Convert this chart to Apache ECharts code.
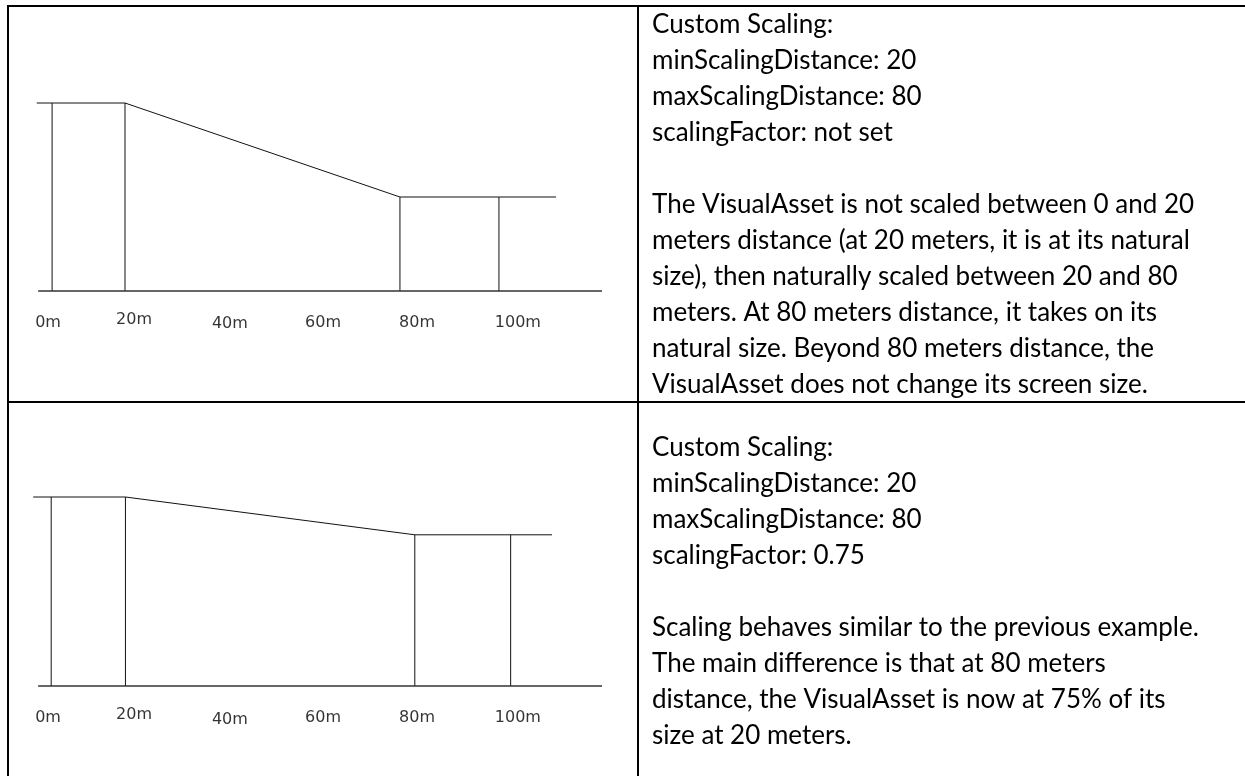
<!DOCTYPE html>
<html>
<head>
<meta charset="utf-8">
<title>Custom Scaling</title>
<script src="https://cdn.jsdelivr.net/npm/echarts@6/dist/echarts.min.js"></script>
<style>
	html, body { margin: 0; padding: 0; background: #fff; }
	#main { width: 1245px; height: 776px; }
</style>
</head>
<body>
<div id="main"></div>
<script>
'use strict';
// distances in metres as drawn, sizes relative to the size at 20 m
var topProfileX = [-1.6, 18, 79.1, 113.8];
var topProfileY = [1, 1, 0.5, 0.5];
var botProfileX = [-2.4, 18.1, 82.4, 112.9];
var botProfileY = [1, 1, 0.8, 0.8];

var topPostX = [1.8, 18, 79.1, 101.1];
var topPostY = [1, 1, 0.5, 0.5];
var botPostX = [1.6, 18.1, 82.4, 103.7];
var botPostY = [1, 1, 0.8, 0.8];

var groundX = [-1.3, 124];

var tickLabels = ['0m', '20m', '40m', '60m', '80m', '100m'];
var tickLabelX = [0.9, 20, 41.3, 62, 82.9, 105.3];
var tickLabelY = [-0.17, -0.155, -0.177, -0.17, -0.17, -0.17];

var topText = [
	'Custom Scaling:',
	'minScalingDistance: 20',
	'maxScalingDistance: 80',
	'scalingFactor: not set',
	'',
	'The VisualAsset is not scaled between 0 and 20',
	'meters distance (at 20 meters, it is at its natural',
	'size), then naturally scaled between 20 and 80',
	'meters. At 80 meters distance, it takes on its',
	'natural size. Beyond 80 meters distance, the',
	'VisualAsset does not change its screen size.'
];
var botText = [
	'Custom Scaling:',
	'minScalingDistance: 20',
	'maxScalingDistance: 80',
	'scalingFactor: 0.75',
	'',
	'Scaling behaves similar to the previous example.',
	'The main difference is that at 80 meters',
	'distance, the VisualAsset is now at 75% of its',
	'size at 20 meters.'
];

var ink = '#111';

function pairs(xs, ys) {
	return xs.map(function(x, i) { return [x, ys[i]]; });
}

function renderPost(params, api) {
	var head = api.coord([api.value(0), api.value(1)]);
	var foot = api.coord([api.value(0), 0]);
	return {
		type: 'line',
		shape: { x1: foot[0], y1: foot[1], x2: head[0], y2: head[1] },
		style: { stroke: ink, lineWidth: 1 }
	};
}

function panelSeries(idx, profileX, profileY, postX, postY) {
	return [{
		type: 'line',
		xAxisIndex: idx, yAxisIndex: idx,
		data: pairs(profileX, profileY),
		symbol: 'none',
		lineStyle: { color: ink, width: 1 }
	}, {
		type: 'line',
		xAxisIndex: idx, yAxisIndex: idx,
		data: pairs(groundX, [0, 0]),
		symbol: 'none',
		lineStyle: { color: '#333', width: 1.3 }
	}, {
		type: 'custom',
		xAxisIndex: idx, yAxisIndex: idx,
		data: pairs(postX, postY),
		encode: { x: 0, y: 1 },
		renderItem: renderPost
	}, {
		type: 'scatter',
		xAxisIndex: idx, yAxisIndex: idx,
		symbolSize: 1,
		itemStyle: { color: 'rgba(0,0,0,0)' },
		data: tickLabels.map(function(t, i) {
			return { name: t, value: [tickLabelX[i], tickLabelY[i]] };
		}),
		label: {
			show: true,
			position: 'inside',
			formatter: '{b}',
			color: '#000',
			fontFamily: 'DejaVu Sans',
			fontSize: 16
		}
	}];
}

function textBlock(lines, top) {
	return {
		type: 'text',
		left: 652,
		top: top,
		style: {
			text: lines.join('\n'),
			fill: '#000',
			fontFamily: 'Lato',
			fontSize: 26,
			lineHeight: 36
		}
	};
}

var chart = echarts.init(document.getElementById('main'));

var axisX = { type: 'value', min: -5, max: 125, show: false };
var axisY = { type: 'value', min: -0.3, max: 1.25, show: false };

var option = {
	animation: false,
	grid: [
		{ left: 21.5, width: 585, top: 56, height: 291.4 },
		{ left: 21.5, width: 585, top: 449.75, height: 292.95 }
	],
	xAxis: [
		Object.assign({ gridIndex: 0 }, axisX),
		Object.assign({ gridIndex: 1 }, axisX)
	],
	yAxis: [
		Object.assign({ gridIndex: 0 }, axisY),
		Object.assign({ gridIndex: 1 }, axisY)
	],
	graphic: [
		// table rules
		{ type: 'rect', shape: { x: 7, y: 5, width: 1238, height: 2 }, style: { fill: '#000' } },
		{ type: 'rect', shape: { x: 7, y: 5, width: 2, height: 771 }, style: { fill: '#000' } },
		{ type: 'rect', shape: { x: 637, y: 5, width: 2, height: 771 }, style: { fill: '#000' } },
		{ type: 'rect', shape: { x: 7, y: 401, width: 1238, height: 2 }, style: { fill: '#000' } },
		textBlock(topText, 7),
		textBlock(botText, 430)
	],
	series: panelSeries(0, topProfileX, topProfileY, topPostX, topPostY)
		.concat(panelSeries(1, botProfileX, botProfileY, botPostX, botPostY))
};

chart.setOption(option);
window.addEventListener('resize', function() {
	chart.resize();
});
</script>
</body>
</html>
